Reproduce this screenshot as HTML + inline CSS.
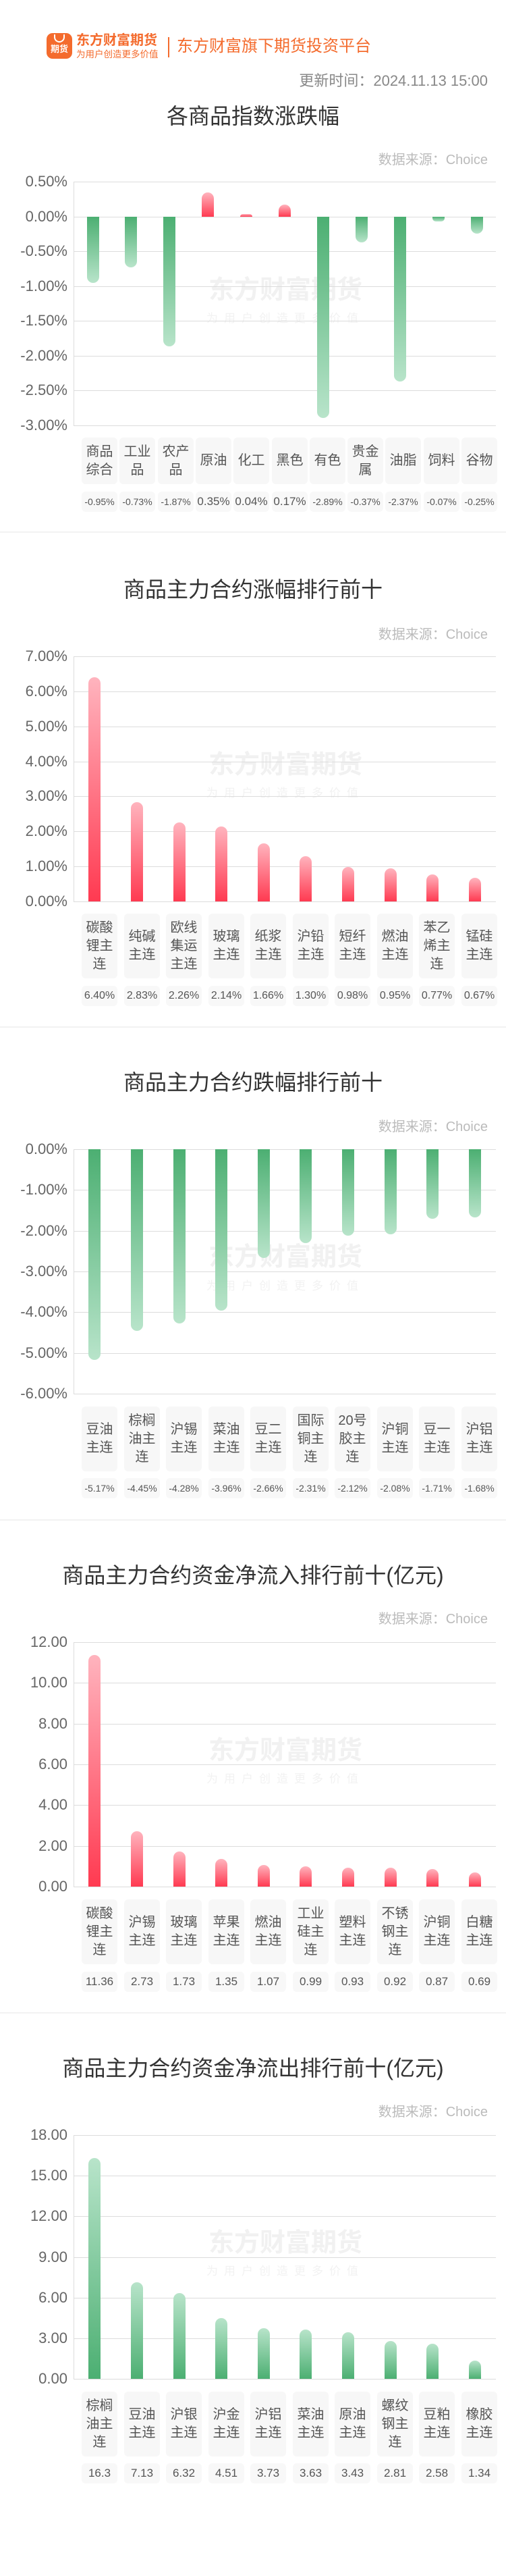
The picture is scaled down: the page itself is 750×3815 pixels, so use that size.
<!DOCTYPE html>
<html><head><meta charset="utf-8">
<style>
*{margin:0;padding:0;box-sizing:border-box}
body{width:750px;height:3815px;background:#fff;position:relative;overflow:hidden;font-family:"Liberation Sans","Noto Sans CJK SC",sans-serif}
div{position:absolute}
.g{left:109px;width:626px;height:1px;background:#dcdcdc}
.ax{left:109px;width:1px;background:#dcdcdc}
.yl{left:0;width:100px;text-align:right;font-size:22px;color:#666;height:26px;line-height:26px;margin-top:-13px}
.ttl{left:0;width:750px;text-align:center;font-size:32px;color:#333;height:40px;line-height:40px;margin-top:-20px}
.ds{right:27px;font-size:20px;color:#bbb;height:24px;line-height:24px;margin-top:-12px}
.rn{width:18px;background:linear-gradient(to top,#ff3a51,#ffb4be);border-radius:9px 9px 0 0}
.gn{width:18px;background:linear-gradient(to bottom,#4caf72,#b8e4ca);border-radius:0 0 9px 9px}
.gp{width:18px;background:linear-gradient(to top,#4caf72,#b8e4ca);border-radius:9px 9px 0 0}
.c{width:53px;background:#f7f7f7;border-radius:6px;display:flex;align-items:center;justify-content:center;text-align:center;font-size:20px;line-height:27px;color:#555}
.v{width:53px;height:30px;background:#f8f8f8;border-radius:6px;text-align:center;line-height:30px;color:#555;white-space:nowrap;overflow:visible}
.sep{left:0;width:750px;height:2px;background:#f2f2f2}
.wm1{left:273px;width:300px;text-align:center;font-size:38px;font-weight:bold;color:#f1f1f1;height:44px;line-height:44px;margin-top:-22px;white-space:nowrap}
.wm2{left:273px;width:300px;text-align:center;font-size:17px;color:#f2f2f2;letter-spacing:9px;height:20px;line-height:20px;margin-top:-10px;white-space:nowrap}
</style></head><body>

<!-- header -->
<div style="left:69px;top:49px;width:38px;height:38px;border-radius:9px;background:#f46b2d;color:#fff;font-size:13px;font-weight:bold;text-align:center;line-height:14px;padding-top:17px">期货</div>
<div style="left:80px;top:51px;width:16px;height:12px;border:2px solid #fff;border-top:none;border-radius:0 0 9px 9px"></div>
<div style="left:113px;top:49px;font-size:20px;font-weight:bold;color:#f46b2d;line-height:22px;white-space:nowrap">东方财富期货</div>
<div style="left:113px;top:73px;font-size:13.5px;color:#f46b2d;line-height:15px;white-space:nowrap">为用户创造更多价值</div>
<div style="left:249px;top:55px;width:2px;height:30px;background:#f46b2d"></div>
<div style="left:262px;top:55px;font-size:24px;color:#f46b2d;line-height:28px;white-space:nowrap">东方财富旗下期货投资平台</div>
<div style="right:27px;top:107px;font-size:22px;color:#888;line-height:26px;white-space:nowrap">更新时间：2024.11.13 15:00</div>

<!-- SECTION 1 -->
<div class="ttl" style="top:172px">各商品指数涨跌幅</div>
<div class="ds" style="top:237px">数据来源：Choice</div>
<div class="wm1" style="top:430px">东方财富期货</div>
<div class="wm2" style="top:472px">为用户创造更多价值</div>
<div class="ax" style="top:269px;height:361px"></div>
<div class="g" style="top:269px"></div><div class="yl" style="top:269px">0.50%</div>
<div class="g" style="top:320.6px"></div><div class="yl" style="top:320.6px">0.00%</div>
<div class="g" style="top:372.1px"></div><div class="yl" style="top:372.1px">-0.50%</div>
<div class="g" style="top:423.7px"></div><div class="yl" style="top:423.7px">-1.00%</div>
<div class="g" style="top:475.3px"></div><div class="yl" style="top:475.3px">-1.50%</div>
<div class="g" style="top:526.9px"></div><div class="yl" style="top:526.9px">-2.00%</div>
<div class="g" style="top:578.4px"></div><div class="yl" style="top:578.4px">-2.50%</div>
<div class="g" style="top:630px"></div><div class="yl" style="top:630px">-3.00%</div>
<div class="gn" style="left:128.5px;top:320.6px;height:98px"></div>
<div class="gn" style="left:185.4px;top:320.6px;height:75.3px"></div>
<div class="gn" style="left:242.3px;top:320.6px;height:192.9px"></div>
<div class="rn" style="left:299.2px;top:284.5px;height:36.1px"></div>
<div class="rn" style="left:356.1px;top:316.5px;height:4.1px;border-radius:5px 5px 0 0"></div>
<div class="rn" style="left:413px;top:303.1px;height:17.5px"></div>
<div class="gn" style="left:469.9px;top:320.6px;height:298.1px"></div>
<div class="gn" style="left:526.8px;top:320.6px;height:38.2px"></div>
<div class="gn" style="left:583.7px;top:320.6px;height:244.4px"></div>
<div class="gn" style="left:640.6px;top:320.6px;height:7.2px;border-radius:0 0 5px 5px"></div>
<div class="gn" style="left:697.5px;top:320.6px;height:25.8px"></div>
<div class="c" style="left:121px;top:648px;height:69px">商品<br>综合</div>
<div class="c" style="left:177px;top:648px;height:69px">工业<br>品</div>
<div class="c" style="left:234px;top:648px;height:69px">农产<br>品</div>
<div class="c" style="left:290px;top:648px;height:69px">原油</div>
<div class="c" style="left:346px;top:648px;height:69px">化工</div>
<div class="c" style="left:403px;top:648px;height:69px">黑色</div>
<div class="c" style="left:459px;top:648px;height:69px">有色</div>
<div class="c" style="left:515px;top:648px;height:69px">贵金<br>属</div>
<div class="c" style="left:571px;top:648px;height:69px">油脂</div>
<div class="c" style="left:628px;top:648px;height:69px">饲料</div>
<div class="c" style="left:684px;top:648px;height:69px">谷物</div>
<div class="v" style="left:121px;top:728px;font-size:14px">-0.95%</div>
<div class="v" style="left:177px;top:728px;font-size:14px">-0.73%</div>
<div class="v" style="left:234px;top:728px;font-size:14px">-1.87%</div>
<div class="v" style="left:290px;top:728px;font-size:17px">0.35%</div>
<div class="v" style="left:346px;top:728px;font-size:17px">0.04%</div>
<div class="v" style="left:403px;top:728px;font-size:17px">0.17%</div>
<div class="v" style="left:459px;top:728px;font-size:14px">-2.89%</div>
<div class="v" style="left:515px;top:728px;font-size:14px">-0.37%</div>
<div class="v" style="left:571px;top:728px;font-size:14px">-2.37%</div>
<div class="v" style="left:628px;top:728px;font-size:14px">-0.07%</div>
<div class="v" style="left:684px;top:728px;font-size:14px">-0.25%</div>
<div class="sep" style="top:787px"></div>

<!-- SECTION 2 -->
<div class="ttl" style="top:873px">商品主力合约涨幅排行前十</div>
<div class="ds" style="top:940px">数据来源：Choice</div>
<div class="wm1" style="top:1133px">东方财富期货</div>
<div class="wm2" style="top:1175px">为用户创造更多价值</div>
<div class="ax" style="top:972px;height:363px"></div>
<div class="g" style="top:972px"></div><div class="yl" style="top:972px">7.00%</div>
<div class="g" style="top:1023.9px"></div><div class="yl" style="top:1023.9px">6.00%</div>
<div class="g" style="top:1075.7px"></div><div class="yl" style="top:1075.7px">5.00%</div>
<div class="g" style="top:1127.6px"></div><div class="yl" style="top:1127.6px">4.00%</div>
<div class="g" style="top:1179.4px"></div><div class="yl" style="top:1179.4px">3.00%</div>
<div class="g" style="top:1231.3px"></div><div class="yl" style="top:1231.3px">2.00%</div>
<div class="g" style="top:1283.1px"></div><div class="yl" style="top:1283.1px">1.00%</div>
<div class="g" style="top:1335px"></div><div class="yl" style="top:1335px">0.00%</div>
<div class="rn" style="left:131.3px;top:1003.1px;height:331.9px"></div>
<div class="rn" style="left:193.9px;top:1188.2px;height:146.8px"></div>
<div class="rn" style="left:256.5px;top:1217.8px;height:117.2px"></div>
<div class="rn" style="left:319.1px;top:1224px;height:111px"></div>
<div class="rn" style="left:381.7px;top:1248.9px;height:86.1px"></div>
<div class="rn" style="left:444.3px;top:1267.6px;height:67.4px"></div>
<div class="rn" style="left:506.9px;top:1284.2px;height:50.8px"></div>
<div class="rn" style="left:569.5px;top:1285.7px;height:49.3px"></div>
<div class="rn" style="left:632.1px;top:1295.1px;height:39.9px"></div>
<div class="rn" style="left:694.7px;top:1300.3px;height:34.7px"></div>
<div class="c" style="left:121px;top:1353px;height:96px">碳酸<br>锂主<br>连</div>
<div class="c" style="left:184px;top:1353px;height:96px">纯碱<br>主连</div>
<div class="c" style="left:246px;top:1353px;height:96px">欧线<br>集运<br>主连</div>
<div class="c" style="left:309px;top:1353px;height:96px">玻璃<br>主连</div>
<div class="c" style="left:371px;top:1353px;height:96px">纸浆<br>主连</div>
<div class="c" style="left:434px;top:1353px;height:96px">沪铅<br>主连</div>
<div class="c" style="left:496px;top:1353px;height:96px">短纤<br>主连</div>
<div class="c" style="left:559px;top:1353px;height:96px">燃油<br>主连</div>
<div class="c" style="left:621px;top:1353px;height:96px">苯乙<br>烯主<br>连</div>
<div class="c" style="left:684px;top:1353px;height:96px">锰硅<br>主连</div>
<div class="v" style="left:121px;top:1460px;font-size:16px">6.40%</div>
<div class="v" style="left:184px;top:1460px;font-size:16px">2.83%</div>
<div class="v" style="left:246px;top:1460px;font-size:16px">2.26%</div>
<div class="v" style="left:309px;top:1460px;font-size:16px">2.14%</div>
<div class="v" style="left:371px;top:1460px;font-size:16px">1.66%</div>
<div class="v" style="left:434px;top:1460px;font-size:16px">1.30%</div>
<div class="v" style="left:496px;top:1460px;font-size:16px">0.98%</div>
<div class="v" style="left:559px;top:1460px;font-size:16px">0.95%</div>
<div class="v" style="left:621px;top:1460px;font-size:16px">0.77%</div>
<div class="v" style="left:684px;top:1460px;font-size:16px">0.67%</div>
<div class="sep" style="top:1520px"></div>

<!-- SECTION 3 -->
<div class="ttl" style="top:1603px">商品主力合约跌幅排行前十</div>
<div class="ds" style="top:1669px">数据来源：Choice</div>
<div class="wm1" style="top:1862px">东方财富期货</div>
<div class="wm2" style="top:1905px">为用户创造更多价值</div>
<div class="ax" style="top:1702px;height:362px"></div>
<div class="g" style="top:1702px"></div><div class="yl" style="top:1702px">0.00%</div>
<div class="g" style="top:1762.3px"></div><div class="yl" style="top:1762.3px">-1.00%</div>
<div class="g" style="top:1822.7px"></div><div class="yl" style="top:1822.7px">-2.00%</div>
<div class="g" style="top:1883px"></div><div class="yl" style="top:1883px">-3.00%</div>
<div class="g" style="top:1943.3px"></div><div class="yl" style="top:1943.3px">-4.00%</div>
<div class="g" style="top:2003.7px"></div><div class="yl" style="top:2003.7px">-5.00%</div>
<div class="g" style="top:2064px"></div><div class="yl" style="top:2064px">-6.00%</div>
<div class="gn" style="left:131.3px;top:1702px;height:311.9px"></div>
<div class="gn" style="left:193.9px;top:1702px;height:268.5px"></div>
<div class="gn" style="left:256.5px;top:1702px;height:258.2px"></div>
<div class="gn" style="left:319.1px;top:1702px;height:238.9px"></div>
<div class="gn" style="left:381.7px;top:1702px;height:160.5px"></div>
<div class="gn" style="left:444.3px;top:1702px;height:139.4px"></div>
<div class="gn" style="left:506.9px;top:1702px;height:127.9px"></div>
<div class="gn" style="left:569.5px;top:1702px;height:125.5px"></div>
<div class="gn" style="left:632.1px;top:1702px;height:103.2px"></div>
<div class="gn" style="left:694.7px;top:1702px;height:101.4px"></div>
<div class="c" style="left:121px;top:2083px;height:96px">豆油<br>主连</div>
<div class="c" style="left:184px;top:2083px;height:96px">棕榈<br>油主<br>连</div>
<div class="c" style="left:246px;top:2083px;height:96px">沪锡<br>主连</div>
<div class="c" style="left:309px;top:2083px;height:96px">菜油<br>主连</div>
<div class="c" style="left:371px;top:2083px;height:96px">豆二<br>主连</div>
<div class="c" style="left:434px;top:2083px;height:96px">国际<br>铜主<br>连</div>
<div class="c" style="left:496px;top:2083px;height:96px">20号<br>胶主<br>连</div>
<div class="c" style="left:559px;top:2083px;height:96px">沪铜<br>主连</div>
<div class="c" style="left:621px;top:2083px;height:96px">豆一<br>主连</div>
<div class="c" style="left:684px;top:2083px;height:96px">沪铝<br>主连</div>
<div class="v" style="left:121px;top:2189px;font-size:14px">-5.17%</div>
<div class="v" style="left:184px;top:2189px;font-size:14px">-4.45%</div>
<div class="v" style="left:246px;top:2189px;font-size:14px">-4.28%</div>
<div class="v" style="left:309px;top:2189px;font-size:14px">-3.96%</div>
<div class="v" style="left:371px;top:2189px;font-size:14px">-2.66%</div>
<div class="v" style="left:434px;top:2189px;font-size:14px">-2.31%</div>
<div class="v" style="left:496px;top:2189px;font-size:14px">-2.12%</div>
<div class="v" style="left:559px;top:2189px;font-size:14px">-2.08%</div>
<div class="v" style="left:621px;top:2189px;font-size:14px">-1.71%</div>
<div class="v" style="left:684px;top:2189px;font-size:14px">-1.68%</div>
<div class="sep" style="top:2250px"></div>

<!-- SECTION 4 -->
<div class="ttl" style="top:2333px">商品主力合约资金净流入排行前十(亿元)</div>
<div class="ds" style="top:2398px">数据来源：Choice</div>
<div class="wm1" style="top:2593px">东方财富期货</div>
<div class="wm2" style="top:2635px">为用户创造更多价值</div>
<div class="ax" style="top:2432px;height:362px"></div>
<div class="g" style="top:2432px"></div><div class="yl" style="top:2432px">12.00</div>
<div class="g" style="top:2492.3px"></div><div class="yl" style="top:2492.3px">10.00</div>
<div class="g" style="top:2552.7px"></div><div class="yl" style="top:2552.7px">8.00</div>
<div class="g" style="top:2613px"></div><div class="yl" style="top:2613px">6.00</div>
<div class="g" style="top:2673.3px"></div><div class="yl" style="top:2673.3px">4.00</div>
<div class="g" style="top:2733.7px"></div><div class="yl" style="top:2733.7px">2.00</div>
<div class="g" style="top:2794px"></div><div class="yl" style="top:2794px">0.00</div>
<div class="rn" style="left:131.3px;top:2451.3px;height:342.7px"></div>
<div class="rn" style="left:193.9px;top:2711.6px;height:82.4px"></div>
<div class="rn" style="left:256.5px;top:2741.8px;height:52.2px"></div>
<div class="rn" style="left:319.1px;top:2753.3px;height:40.7px"></div>
<div class="rn" style="left:381.7px;top:2761.7px;height:32.3px"></div>
<div class="rn" style="left:444.3px;top:2764.1px;height:29.9px"></div>
<div class="rn" style="left:506.9px;top:2765.9px;height:28.1px"></div>
<div class="rn" style="left:569.5px;top:2766.2px;height:27.8px"></div>
<div class="rn" style="left:632.1px;top:2767.8px;height:26.2px"></div>
<div class="rn" style="left:694.7px;top:2773.2px;height:20.8px"></div>
<div class="c" style="left:121px;top:2813px;height:96px">碳酸<br>锂主<br>连</div>
<div class="c" style="left:184px;top:2813px;height:96px">沪锡<br>主连</div>
<div class="c" style="left:246px;top:2813px;height:96px">玻璃<br>主连</div>
<div class="c" style="left:309px;top:2813px;height:96px">苹果<br>主连</div>
<div class="c" style="left:371px;top:2813px;height:96px">燃油<br>主连</div>
<div class="c" style="left:434px;top:2813px;height:96px">工业<br>硅主<br>连</div>
<div class="c" style="left:496px;top:2813px;height:96px">塑料<br>主连</div>
<div class="c" style="left:559px;top:2813px;height:96px">不锈<br>钢主<br>连</div>
<div class="c" style="left:621px;top:2813px;height:96px">沪铜<br>主连</div>
<div class="c" style="left:684px;top:2813px;height:96px">白糖<br>主连</div>
<div class="v" style="left:121px;top:2920px;font-size:17px">11.36</div>
<div class="v" style="left:184px;top:2920px;font-size:17px">2.73</div>
<div class="v" style="left:246px;top:2920px;font-size:17px">1.73</div>
<div class="v" style="left:309px;top:2920px;font-size:17px">1.35</div>
<div class="v" style="left:371px;top:2920px;font-size:17px">1.07</div>
<div class="v" style="left:434px;top:2920px;font-size:17px">0.99</div>
<div class="v" style="left:496px;top:2920px;font-size:17px">0.93</div>
<div class="v" style="left:559px;top:2920px;font-size:17px">0.92</div>
<div class="v" style="left:621px;top:2920px;font-size:17px">0.87</div>
<div class="v" style="left:684px;top:2920px;font-size:17px">0.69</div>
<div class="sep" style="top:2980px"></div>

<!-- SECTION 5 -->
<div class="ttl" style="top:3063px">商品主力合约资金净流出排行前十(亿元)</div>
<div class="ds" style="top:3128px">数据来源：Choice</div>
<div class="wm1" style="top:3322px">东方财富期货</div>
<div class="wm2" style="top:3364px">为用户创造更多价值</div>
<div class="ax" style="top:3162px;height:361px"></div>
<div class="g" style="top:3162px"></div><div class="yl" style="top:3162px">18.00</div>
<div class="g" style="top:3222.2px"></div><div class="yl" style="top:3222.2px">15.00</div>
<div class="g" style="top:3282.3px"></div><div class="yl" style="top:3282.3px">12.00</div>
<div class="g" style="top:3342.5px"></div><div class="yl" style="top:3342.5px">9.00</div>
<div class="g" style="top:3402.7px"></div><div class="yl" style="top:3402.7px">6.00</div>
<div class="g" style="top:3462.8px"></div><div class="yl" style="top:3462.8px">3.00</div>
<div class="g" style="top:3523px"></div><div class="yl" style="top:3523px">0.00</div>
<div class="gp" style="left:131.3px;top:3196px;height:327px"></div>
<div class="gp" style="left:193.9px;top:3380px;height:143px"></div>
<div class="gp" style="left:256.5px;top:3396.2px;height:126.8px"></div>
<div class="gp" style="left:319.1px;top:3432.5px;height:90.5px"></div>
<div class="gp" style="left:381.7px;top:3448.2px;height:74.8px"></div>
<div class="gp" style="left:444.3px;top:3450.2px;height:72.8px"></div>
<div class="gp" style="left:506.9px;top:3454.2px;height:68.8px"></div>
<div class="gp" style="left:569.5px;top:3466.6px;height:56.4px"></div>
<div class="gp" style="left:632.1px;top:3471.2px;height:51.8px"></div>
<div class="gp" style="left:694.7px;top:3496.1px;height:26.9px"></div>
<div class="c" style="left:121px;top:3542px;height:96px">棕榈<br>油主<br>连</div>
<div class="c" style="left:184px;top:3542px;height:96px">豆油<br>主连</div>
<div class="c" style="left:246px;top:3542px;height:96px">沪银<br>主连</div>
<div class="c" style="left:309px;top:3542px;height:96px">沪金<br>主连</div>
<div class="c" style="left:371px;top:3542px;height:96px">沪铝<br>主连</div>
<div class="c" style="left:434px;top:3542px;height:96px">菜油<br>主连</div>
<div class="c" style="left:496px;top:3542px;height:96px">原油<br>主连</div>
<div class="c" style="left:559px;top:3542px;height:96px">螺纹<br>钢主<br>连</div>
<div class="c" style="left:621px;top:3542px;height:96px">豆粕<br>主连</div>
<div class="c" style="left:684px;top:3542px;height:96px">橡胶<br>主连</div>
<div class="v" style="left:121px;top:3648px;font-size:17px">16.3</div>
<div class="v" style="left:184px;top:3648px;font-size:17px">7.13</div>
<div class="v" style="left:246px;top:3648px;font-size:17px">6.32</div>
<div class="v" style="left:309px;top:3648px;font-size:17px">4.51</div>
<div class="v" style="left:371px;top:3648px;font-size:17px">3.73</div>
<div class="v" style="left:434px;top:3648px;font-size:17px">3.63</div>
<div class="v" style="left:496px;top:3648px;font-size:17px">3.43</div>
<div class="v" style="left:559px;top:3648px;font-size:17px">2.81</div>
<div class="v" style="left:621px;top:3648px;font-size:17px">2.58</div>
<div class="v" style="left:684px;top:3648px;font-size:17px">1.34</div>

</body></html>
